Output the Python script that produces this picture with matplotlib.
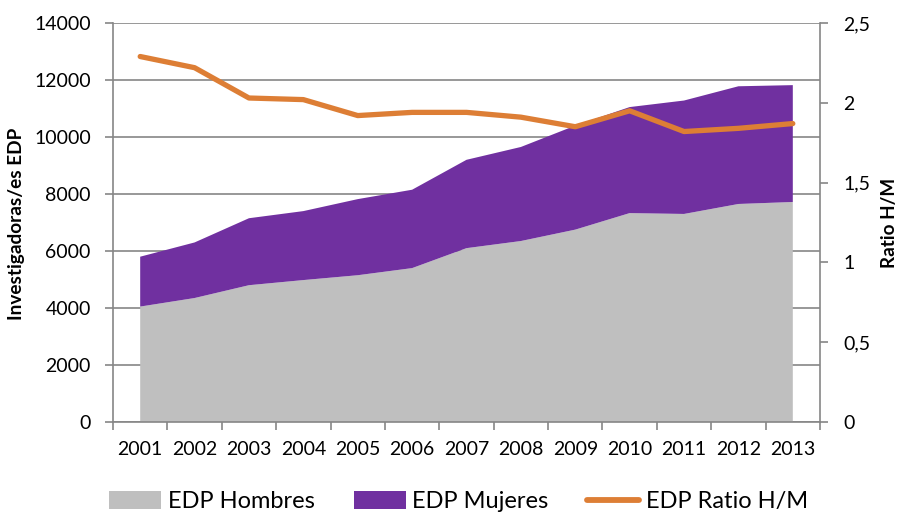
import matplotlib
matplotlib.use("Agg")
import matplotlib.pyplot as plt
from matplotlib.patches import Patch
from matplotlib.lines import Line2D
from matplotlib.ticker import FuncFormatter
import numpy as np

plt.rcParams['font.family'] = ['Lato', 'DejaVu Sans']

# ---------------------------------------------------------------------------
# Data
# ---------------------------------------------------------------------------
years = ["2001", "2002", "2003", "2004", "2005", "2006", "2007",
         "2008", "2009", "2010", "2011", "2012", "2013"]
edp_hombres = [4050, 4350, 4800, 4980, 5150, 5400, 6100,
               6350, 6750, 7330, 7300, 7650, 7720]
edp_mujeres = [1750, 1950, 2350, 2420, 2670, 2750, 3100,
               3300, 3650, 3720, 3980, 4130, 4100]
ratio_hm = [2.29, 2.22, 2.03, 2.02, 1.92, 1.94, 1.94,
            1.91, 1.85, 1.95, 1.82, 1.84, 1.87]

GRAY = "#BFBFBF"
PURPLE = "#7030A0"
ORANGE = "#DD7E35"
AXIS = "#868686"


def fit_height(fig, text, target_px):
    """Scale a rotated label's font so it spans about target_px pixels."""
    r = fig.canvas.get_renderer()
    h = text.get_window_extent(r).height
    text.set_fontsize(text.get_fontsize() * target_px / h)


fig = plt.figure(figsize=(9.01, 5.14), dpi=100)
ax = fig.add_axes([113 / 901, 92 / 514, 707 / 901, 399 / 514])
ax2 = ax.twinx()

x = np.arange(len(years))
ax.stackplot(x, edp_hombres, edp_mujeres, colors=[GRAY, PURPLE],
             linewidth=0, zorder=2)
ax2.plot(x, ratio_hm, color=ORANGE, linewidth=3.8, solid_capstyle="round",
         solid_joinstyle="round")

# Left axis
ax.set_xlim(-0.5, len(years) - 0.5)
ax.set_ylim(0, 14000)
ax.set_yticks(range(0, 14001, 2000))
ax.yaxis.grid(True, color=AXIS, linewidth=1.2, zorder=0)
ax.set_axisbelow(True)
ax.set_xticks(x)
ax.set_xticklabels(years)
ax.set_xticks(np.arange(-0.5, len(years), 1.0), minor=True)
ax.tick_params(axis="x", which="major", length=0, pad=14, labelsize=14)
ax.tick_params(axis="x", which="minor", length=6, width=1.2, color=AXIS)
ax.tick_params(axis="y", length=6, width=1.2, color=AXIS, labelsize=14, pad=10)
ylab = ax.set_ylabel("Investigadoras/es EDP", fontsize=11, fontweight="bold")
ax.yaxis.set_label_coords(-0.1245, 0.497)

# Right axis
ax2.set_ylim(0, 2.5)
ax2.set_yticks(np.arange(0, 2.51, 0.5))
ax2.yaxis.set_major_formatter(FuncFormatter(
    lambda v, p: ("%g" % v).replace(".", ",")))
ax2.tick_params(axis="y", length=6, width=1.2, color=AXIS, labelsize=14, pad=11)
rlab = ax2.set_ylabel("Ratio H/M", fontsize=11, fontweight="bold")
ax2.yaxis.set_label_coords(1.086, 0.499)

for a in (ax, ax2):
    a.spines["top"].set_visible(False)
    for s in ("left", "right", "bottom"):
        a.spines[s].set_color(AXIS)
        a.spines[s].set_linewidth(1.2)
ax.spines["right"].set_visible(False)
ax2.spines["left"].set_visible(False)
ax2.spines["bottom"].set_visible(False)

handles = [Patch(facecolor=GRAY, edgecolor="none", label="EDP Hombres"),
           Patch(facecolor=PURPLE, edgecolor="none", label="EDP Mujeres"),
           Line2D([], [], color=ORANGE, linewidth=4.2, solid_capstyle="round",
                  label="EDP Ratio H/M")]
fig.legend(handles=handles, loc="center", bbox_to_anchor=(0.509, 0.024),
           ncol=3, frameon=False, fontsize=17, handlelength=2.2,
           handleheight=0.75, handletextpad=0.28, columnspacing=1.65,
           borderpad=0, borderaxespad=0)

fit_height(fig, ylab, 192)
fit_height(fig, rlab, 90)

fig.savefig("out.png", dpi=100)
